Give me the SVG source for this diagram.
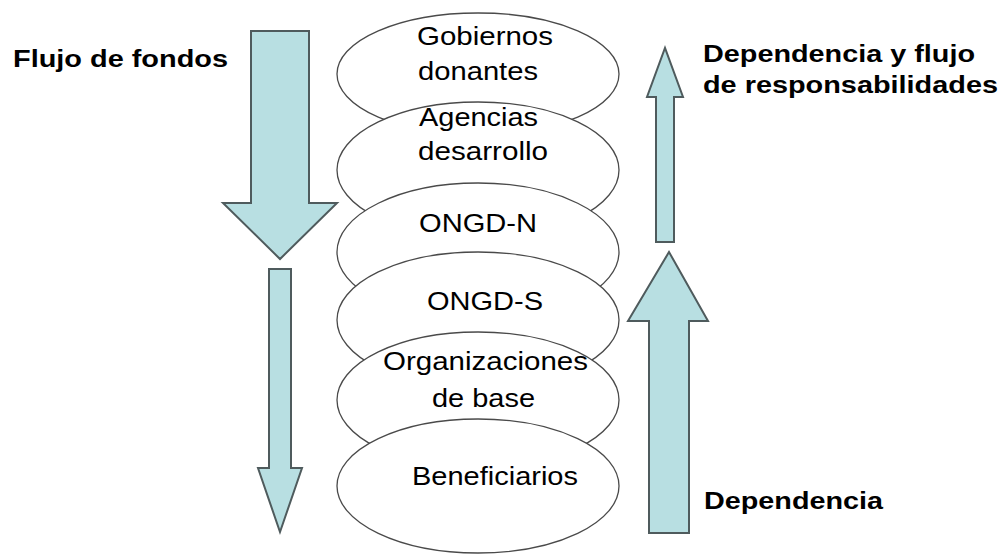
<svg xmlns="http://www.w3.org/2000/svg" width="1003" height="555" viewBox="0 0 1003 555">
  <style>
    .ell { fill: #ffffff; stroke: #4a4a4a; stroke-width: 1.3; }
    .lbl { font-family: "Liberation Sans", Arial, sans-serif; font-size: 26px; fill: #000000; }
    .blbl { font-family: "Liberation Sans", Arial, sans-serif; font-size: 23px; font-weight: bold; fill: #000000; }
    .barrow { fill: #b8dfe2; stroke: #4f5b5d; stroke-width: 2; stroke-linejoin: miter; }
  </style>
  <rect width="1003" height="555" fill="#ffffff"/>

  <g id="connectors">
    <polygon id="arrow-fondos-1" class="barrow" points="251,31 309,31 309,203 337,203 280,259 223,203 251,203"/>
    <polygon id="arrow-fondos-2" class="barrow" points="269,269 291,269 291,468 302,468 280,532 258,468 269,468"/>
    <polygon id="arrow-resp" class="barrow" points="656,242 674,242 674,97 683,97 665,48 647,97 656,97"/>
    <polygon id="arrow-dep" class="barrow" points="649,533 689,533 689,321 708,321 669,252 628,321 649,321"/>
  </g>

  <g id="node-gobiernos">
    <ellipse class="ell" cx="478" cy="74" rx="141" ry="61"/>
    <text class="lbl" x="417" y="45" textLength="136" lengthAdjust="spacingAndGlyphs">Gobiernos</text>
    <text class="lbl" x="418" y="80" textLength="120" lengthAdjust="spacingAndGlyphs">donantes</text>
  </g>
  <g id="node-agencias">
    <ellipse class="ell" cx="478" cy="170" rx="141" ry="68"/>
    <text class="lbl" x="419" y="126" textLength="119" lengthAdjust="spacingAndGlyphs">Agencias</text>
    <text class="lbl" x="418" y="160" textLength="130" lengthAdjust="spacingAndGlyphs">desarrollo</text>
  </g>
  <g id="node-ongd-n">
    <ellipse class="ell" cx="478" cy="252" rx="141" ry="69"/>
    <text class="lbl" x="419" y="232" textLength="118" lengthAdjust="spacingAndGlyphs">ONGD-N</text>
  </g>
  <g id="node-ongd-s">
    <ellipse class="ell" cx="478" cy="320" rx="141" ry="68"/>
    <text class="lbl" x="427" y="310" textLength="116" lengthAdjust="spacingAndGlyphs">ONGD-S</text>
  </g>
  <g id="node-organizaciones">
    <ellipse class="ell" cx="478" cy="400" rx="141" ry="68"/>
    <text class="lbl" x="383" y="370" textLength="205" lengthAdjust="spacingAndGlyphs">Organizaciones</text>
    <text class="lbl" x="432" y="407" textLength="103" lengthAdjust="spacingAndGlyphs">de base</text>
  </g>
  <g id="node-beneficiarios">
    <ellipse class="ell" cx="478" cy="486" rx="141" ry="67"/>
    <text class="lbl" x="412" y="485" textLength="166" lengthAdjust="spacingAndGlyphs">Beneficiarios</text>
  </g>

  <g id="label-flujo-fondos">
    <text class="blbl" x="13" y="67" textLength="215" lengthAdjust="spacingAndGlyphs">Flujo de fondos</text>
  </g>
  <g id="label-dependencia-flujo">
    <text class="blbl" x="703" y="62" textLength="272" lengthAdjust="spacingAndGlyphs">Dependencia y flujo</text>
    <text class="blbl" x="703" y="93" textLength="295" lengthAdjust="spacingAndGlyphs">de responsabilidades</text>
  </g>
  <g id="label-dependencia">
    <text class="blbl" x="704" y="509" textLength="179" lengthAdjust="spacingAndGlyphs">Dependencia</text>
  </g>
</svg>
